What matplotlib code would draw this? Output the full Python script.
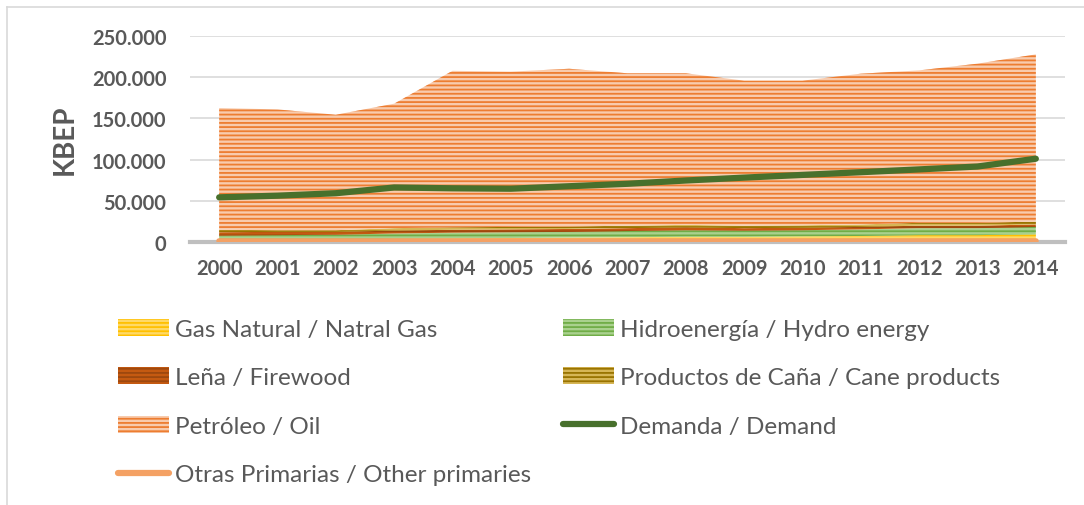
import matplotlib
matplotlib.use("Agg")
import matplotlib.pyplot as plt
from matplotlib.patches import Patch
from matplotlib.lines import Line2D
import numpy as np

years = ["2000", "2001", "2002", "2003", "2004", "2005", "2006", "2007",
         "2008", "2009", "2010", "2011", "2012", "2013", "2014"]
gas_natural = [1500, 2000, 2500, 3500, 4000, 4500, 5000, 5500, 6000, 6000, 6500, 7000, 8000, 8000, 9000]
hidro = [6000, 6000, 6000, 6500, 7000, 7000, 7000, 7500, 8000, 7500, 7500, 8000, 8500, 8500, 9000]
lena = [4000, 4000, 3500, 3500, 3500, 3500, 3500, 3500, 3500, 3000, 3000, 3000, 3000, 3000, 3000]
cana = [3000, 2000, 2000, 3000, 3000, 3000, 3000, 3000, 3000, 3000, 3000, 3000, 3500, 3500, 3500]
petroleo = [148200, 147000, 140500, 151500, 190500, 189000, 192000, 185500, 184500, 176500, 176000, 183500, 185500, 193700, 203500]
demanda = [54000, 56000, 59000, 66000, 65000, 64500, 67500, 70500, 74500, 78000, 81300, 84600, 88000, 91500, 101000]
otras = [300] * 15

labels = ["Gas Natural / Natral Gas", "Hidroenergía / Hydro energy", "Leña / Firewood",
          "Productos de Caña / Cane products", "Petróleo / Oil", "Demanda / Demand",
          "Otras Primarias / Other primaries"]

plt.rcParams['font.family'] = ['Lato', 'DejaVu Sans']
plt.rcParams['hatch.linewidth'] = 1.3

fig = plt.figure(figsize=(10.84, 5.06), dpi=100)
ax = fig.add_axes([190/1084, 1 - 242.7/506, (1065 - 190)/1084, (242.7 - 37.3)/506])

x = np.arange(len(years))
fills = [
    (gas_natural, '#FFD966', '#FFC000'),
    (hidro, '#A9D18E', '#70AD47'),
    (lena, '#C55A11', '#9E480E'),
    (cana, '#D6B656', '#997300'),
    (petroleo, '#F8CBAD', '#ED7D31'),
]
base = np.zeros(len(years))
handles = []
for (vals, fc, hc), lab in zip(fills, labels[:5]):
    v = np.array(vals, dtype=float)
    ax.fill_between(x, base, base + v, facecolor=fc, edgecolor=hc, hatch='----',
                    linewidth=0, zorder=2)
    base = base + v
    handles.append(Patch(facecolor=fc, edgecolor=hc, hatch='----', linewidth=0))

ax.plot(x, otras, color='#F4A164', linewidth=4, solid_capstyle='round', zorder=3)
ax.plot(x, demanda, color='#48702C', linewidth=4.5, solid_capstyle='round', zorder=4)

h_dem = Line2D([0], [0], color='#48702C', linewidth=4.5, solid_capstyle='round')
h_otr = Line2D([0], [0], color='#F4A164', linewidth=4.5, solid_capstyle='round')

ax.set_xlim(-0.5, len(years) - 0.5)
ax.set_ylim(0, 250000)
ax.set_yticks([0, 50000, 100000, 150000, 200000, 250000])
ax.set_yticklabels(["0", "50.000", "100.000", "150.000", "200.000", "250.000"])
ax.set_xticks(x)
ax.set_xticklabels(years)
ax.grid(axis='y', color='#D9D9D9', linewidth=1.2, zorder=0)
ax.set_axisbelow(True)
for s in ['top', 'right', 'left']:
    ax.spines[s].set_visible(False)
ax.spines['bottom'].set_color('#BFBFBF')
ax.spines['bottom'].set_linewidth(3)
ax.spines['bottom'].set_zorder(1)
ax.tick_params(axis='both', length=0, labelcolor='#595959', labelsize=14.5)
ax.tick_params(axis='y', pad=17)
ax.tick_params(axis='x', pad=12)
for t in ax.get_xticklabels() + ax.get_yticklabels():
    t.set_fontweight('bold')
ax.set_ylabel("KBEP", fontsize=20, fontweight='bold', color='#595959', labelpad=10)

order_h = [handles[0], handles[2], handles[4], h_otr, handles[1], handles[3], h_dem]
order_l = [labels[0], labels[2], labels[4], labels[6], labels[1], labels[3], labels[5]]
leg = fig.legend(order_h, order_l, ncol=2, loc='upper left', bbox_to_anchor=(96/1084, 1 - 298/506),
                 frameon=False, fontsize=17.5, handlelength=2.1, handleheight=0.7,
                 labelspacing=1.13, columnspacing=1.3, handletextpad=0.25, labelcolor='#595959')

fig.add_artist(Line2D([7/1084, 7/1084], [0, 1 - 8/506], color='#D9D9D9', linewidth=1.2))
fig.add_artist(Line2D([7/1084, 1], [1 - 8/506, 1 - 8/506], color='#D9D9D9', linewidth=1.2))

fig.savefig("out.png", dpi=100)
